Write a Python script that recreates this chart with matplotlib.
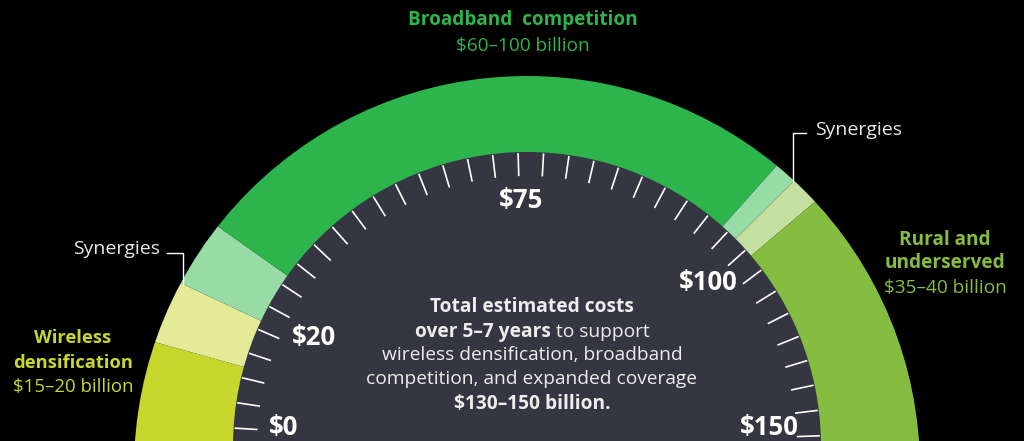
import numpy as np
import matplotlib

matplotlib.use("Agg")
import matplotlib.pyplot as plt
from matplotlib.patches import Circle, Wedge

# ring segments, drawn clockwise from the lower left (degrees of arc)
seg_names = ["Wireless densification", "Synergy (wireless)", "Synergy (broadband)",
             "Broadband competition", "Synergy (broadband)", "Synergy (rural)",
             "Rural and underserved"]
seg_spans = [35.6, 9.6, 10.2, 96.3, 3.5, 4.5, 60.3]
seg_colors = ["#C8D72E", "#E3EB98", "#97DCA7", "#2DB44C", "#97DCA7", "#C4E0A0", "#86BC40"]

# gauge scale: 36 ticks, a few of them labelled
n_ticks = 36
tick_labels = ["$0", "$20", "$75", "$100", "$150"]
tick_label_idx = [0, 4, 17, 28, 35]

center_lines = [
    [("Total estimated costs", "bold")],
    [("over 5\u20137 years", "bold"), ("to support", "normal")],
    [("wireless densification, broadband", "normal")],
    [("competition, and expanded coverage", "normal")],
    [("$130\u2013150 billion.", "bold")],
]

BG = "#000000"
DISC = "#353642"
FONT = "Open Sans"

W, H = 1024, 441
fig = plt.figure(figsize=(W / 100, H / 100), dpi=100, facecolor=BG)
ax = fig.add_axes([0, 0, 1, 1])
ax.set_xlim(0, W)
ax.set_ylim(0, H)
ax.axis("off")
ax.set_facecolor(BG)

cx = 527
cy_in, r_in = -5, 294      # dark disc
cy_out, r_out = -28, 393   # outer edge of the ring

clip = Circle((cx, cy_out), r_out, transform=ax.transData)
theta = 200.0
for span, col in zip(seg_spans, seg_colors):
    w = Wedge((cx, cy_in), 520, theta - span, theta, facecolor=col, edgecolor="none")
    ax.add_patch(w)
    w.set_clip_path(clip)
    theta -= span

ax.add_patch(Circle((cx, cy_in), r_in, facecolor=DISC, edgecolor="none"))

# ticks
angles = np.linspace(176.5, 2.0, n_ticks)
for a in angles:
    t = np.radians(a)
    ax.plot([cx + 293 * np.cos(t), cx + 270 * np.cos(t)],
            [cy_in + 293 * np.sin(t), cy_in + 270 * np.sin(t)],
            color="white", lw=1.2, solid_capstyle="butt")

nudges = [(0, 3), (2, 5), (2, 0), (4, 8), (13, 9)]
for lab, idx, (nx, ny) in zip(tick_labels, tick_label_idx, nudges):
    t = np.radians(angles[idx])
    x = cx + 259 * np.cos(t) + nx
    y = cy_in + 259 * np.sin(t) + ny
    c = np.cos(t)
    ha = "left" if c < -0.3 else ("right" if c > 0.3 else "center")
    va = "top" if abs(c) <= 0.3 else "center"
    ax.text(x, y, lab, ha=ha, va=va, color="white", fontsize=18.5,
            fontweight="bold", family=FONT)

# segment labels
ax.text(523, 421, "Broadband  competition", ha="center", va="center",
        color="#2DB44C", fontsize=13.7, fontweight="bold", family=FONT)
ax.text(523, 395, "$60\u2013100 billion", ha="center", va="center",
        color="#2DB44C", fontsize=13.7, family=FONT)

ax.text(73, 103, "Wireless", ha="center", va="center", color="#C8D72E",
        fontsize=13.2, fontweight="bold", family=FONT)
ax.text(73, 78, "densification", ha="center", va="center", color="#C8D72E",
        fontsize=13.2, fontweight="bold", family=FONT)
ax.text(73, 54, "$15\u201320 billion", ha="center", va="center", color="#C8D72E",
        fontsize=13.4, family=FONT)

ax.text(945, 201, "Rural and", ha="center", va="center", color="#86BC40",
        fontsize=13.7, fontweight="bold", family=FONT)
ax.text(945, 178, "underserved", ha="center", va="center", color="#86BC40",
        fontsize=13.7, fontweight="bold", family=FONT)
ax.text(945, 153, "$35\u201340 billion", ha="center", va="center", color="#86BC40",
        fontsize=13.7, family=FONT)

# synergy callouts
ax.text(160, 192, "Synergies", ha="right", va="center", color="#E8E8E8",
        fontsize=14, family=FONT)
ax.plot([167, 183, 183], [188, 188, 156], color="white", lw=1.0)
ax.text(815, 311, "Synergies", ha="left", va="center", color="#E8E8E8",
        fontsize=14, family=FONT)
ax.plot([806, 793, 793], [308, 308, 259], color="white", lw=1.0)

# centre text, mixed weights per line
renderer = fig.canvas.get_renderer()
line_y = [134, 109, 86, 62, 37]
gap = 5
for parts, y in zip(center_lines, line_y):
    texts = [ax.text(0, y, s, ha="left", va="center", color="#EDEDED",
                     fontsize=13.8, fontweight=wt, family=FONT) for s, wt in parts]
    widths = [t.get_window_extent(renderer).width for t in texts]
    total = sum(widths) + gap * (len(texts) - 1)
    x = 532 - total / 2
    for t, wd in zip(texts, widths):
        t.set_x(x)
        x += wd + gap

fig.savefig("out.png", dpi=100, facecolor=BG)
